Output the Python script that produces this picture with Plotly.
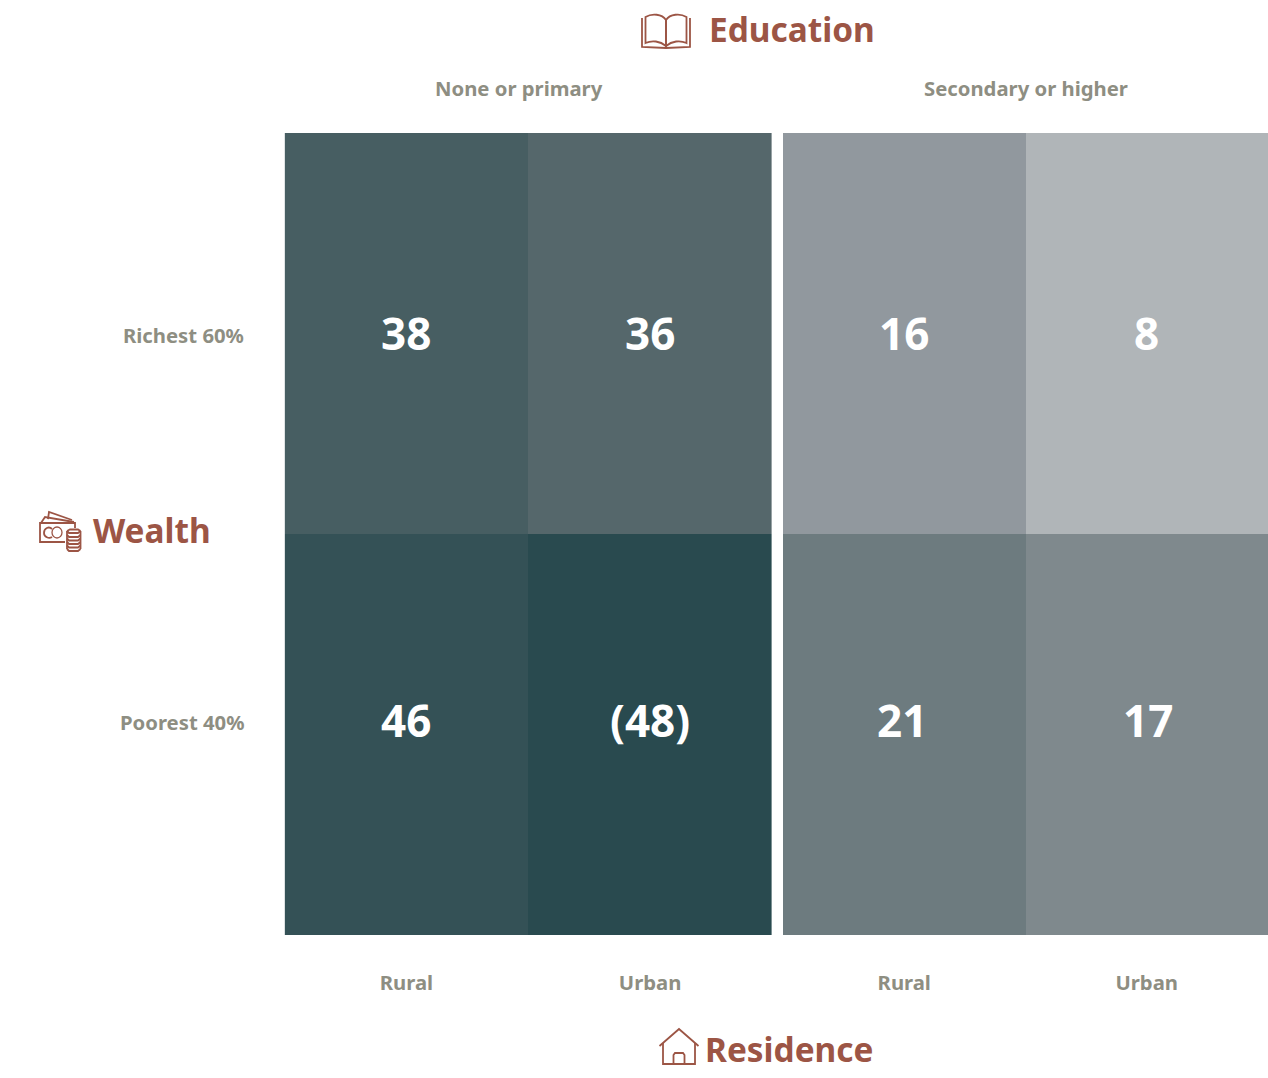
import plotly.graph_objects as go

W, H = 1268, 1078
residence = ["Rural", "Urban"]
wealth = ["Poorest 40%", "Richest 60%"]
education = ["None or primary", "Secondary or higher"]
none_primary = [[46, 48], [38, 36]]
secondary = [[21, 17], [16, 8]]
none_primary_text = [["46", "(48)"], ["38", "36"]]
secondary_text = [["21", "17"], ["16", "8"]]

scale_values = [8, 16, 17, 21, 36, 38, 46, 48]
scale_colors = ["#B0B5B8", "#91989E", "#7F898D", "#6D7B7F", "#55676B", "#475E62", "#345156", "#294A4F"]
colorscale = [[(v - 8) / 40, c] for v, c in zip(scale_values, scale_colors)]

FONT = "Noto Sans"
GREY = "#8E8E82"
RUST = "#9C5545"
LABEL_SIZE = 20.3
TITLE_SIZE = 33.4
VALUE_SIZE = 44

def px(x): return x / W
def py(y): return 1 - y / H

fig = go.Figure()
for z, axis in ((none_primary, "1"), (secondary, "2")):
    fig.add_trace(go.Heatmap(
        z=z, x=residence, y=wealth, colorscale=colorscale, zmin=8, zmax=48,
        showscale=False, hoverinfo="skip",
        xaxis="x" if axis == "1" else "x2", yaxis="y",
    ))

anns = []
def note(text, x, y, size, color, anchor="center", xref="paper", yref="paper", xshift=0, yshift=0):
    anns.append(dict(text=text, x=x, y=y, xref=xref, yref=yref, showarrow=False,
                     xanchor=anchor, yanchor="middle", xshift=xshift, yshift=yshift,
                     font=dict(family=FONT, size=size, color=color, weight="bold")))

# cell values
shifts = {("x", 0, 0): (0, 15), ("x", 0, 1): (0, 15), ("x", 1, 0): (0, 1), ("x", 1, 1): (0, 1),
          ("x2", 0, 0): (-2, 15), ("x2", 0, 1): (1, 15), ("x2", 1, 0): (0, 1), ("x2", 1, 1): (0, 1)}
for xr, txt in (("x", none_primary_text), ("x2", secondary_text)):
    for r in range(2):
        for c in range(2):
            dx, dy = shifts[(xr, r, c)]
            note(txt[r][c], residence[c], wealth[r], VALUE_SIZE, "white", xref=xr, yref="y", xshift=dx, yshift=dy)

note(education[0], px(519), py(88), LABEL_SIZE, GREY)
note(education[1], px(1026), py(88), LABEL_SIZE, GREY)
note(wealth[1], px(246), py(335), LABEL_SIZE, GREY, anchor="right")
note(wealth[0], px(246), py(722), LABEL_SIZE, GREY, anchor="right")
note("Education", px(707), py(29), TITLE_SIZE, RUST, anchor="left")
note("Wealth", px(91), py(530), TITLE_SIZE, RUST, anchor="left")
note("Residence", px(703), py(1049), TITLE_SIZE, RUST, anchor="left")

def P(*pts, close=False):
    s = "M" + " L".join(f"{px(x):.5f},{py(y):.5f}" for x, y in pts)
    return s + (" Z" if close else "")

def C(start, segs):
    s = f"M{px(start[0]):.5f},{py(start[1]):.5f}"
    for a, b, c in segs:
        s += " C" + " ".join(f"{px(x):.5f},{py(y):.5f}" for x, y in (a, b, c))
    return s

icons = [
    # book
    P((642, 18), (642, 47), (666, 48), (690, 47), (690, 18)),
    C((645.5, 17), [((652, 13), (662, 14), (666, 20)), ((666, 30), (666, 36), (666, 46)),
                    ((660, 41), (652, 40), (645.5, 43))]) + " Z",
    C((686.5, 17), [((680, 13), (670, 14), (666, 20)), ((666, 30), (666, 36), (666, 46)),
                    ((672, 41), (680, 40), (686.5, 43))]) + " Z",
    # wealth: bills
    P((65, 542), (40, 542), (40, 523), (75, 523), (75, 528)),
    P((41, 523), (45, 517), (74, 522)),
    P((48, 519), (49, 512), (72, 520)),
    # C on the note
    C((52, 529), [((49, 526), (44, 528), (44, 533)), ((44, 537), (49, 539), (52, 537))]),
    # house
    P((659.5, 1046), (679, 1029), (698.5, 1046)),
    P((663, 1043), (663, 1064), (695, 1064), (695, 1043)),
    P((673.5, 1064), (673.5, 1055), (675, 1053), (683, 1053), (684.5, 1055), (684.5, 1064)),
]
# coin stack
for y in (531, 535, 538.5, 542, 545.5, 549):
    icons.append(P((67, y), (69, y + 2), (78, y + 2), (80.5, y)))
icons.append(P((67, 531), (67, 549)))
icons.append(P((80.5, 531), (80.5, 549)))
icons.append(P((67, 531), (70, 529.5), (78, 529.5), (80.5, 531)))

shapes = [dict(type="path", path=p, xref="paper", yref="paper",
               line=dict(color=RUST, width=1.8), fillcolor="rgba(0,0,0,0)") for p in icons]
# O on the banknote
shapes.append(dict(type="circle", xref="paper", yref="paper", x0=px(52), x1=px(62), y0=py(538), y1=py(527),
                   line=dict(color=RUST, width=1.3)))

axis_font = dict(family=FONT, size=LABEL_SIZE, color=GREY, weight="bold")
xaxis_common = dict(type="category", categoryorder="array", categoryarray=residence, showgrid=False,
                    zeroline=False, showline=False, ticks="", tickfont=axis_font, anchor="y",
                    ticklabelstandoff=34)
fig.update_layout(
    width=W, height=H, margin=dict(l=0, r=0, t=0, b=0), plot_bgcolor="white", paper_bgcolor="white",
    xaxis=dict(domain=[284.6 / W, 772 / W], **xaxis_common),
    xaxis2=dict(domain=[783 / W, 1268 / W], **xaxis_common),
    yaxis=dict(domain=[1 - 935 / H, 1 - 133 / H], type="category", categoryorder="array",
               categoryarray=wealth, showticklabels=False, showgrid=False, zeroline=False, ticks=""),
    annotations=anns, shapes=shapes, showlegend=False,
)
fig.write_html("out.html", config=dict(displayModeBar=False), post_script="document.body.style.margin='0';")
